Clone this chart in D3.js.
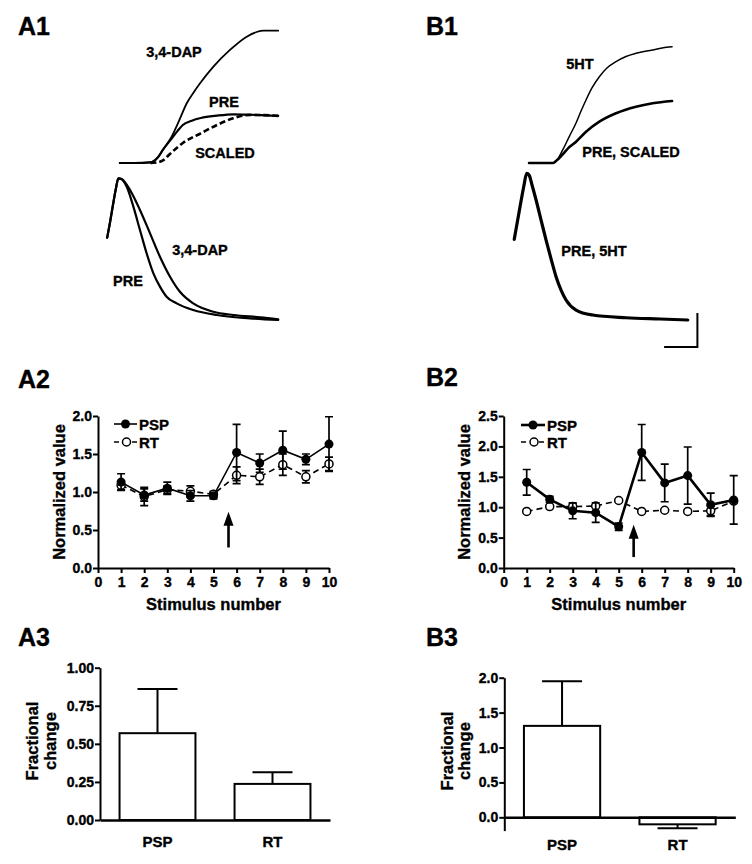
<!DOCTYPE html>
<html>
<head>
<meta charset="utf-8">
<script src="https://cdn.jsdelivr.net/npm/d3@7"></script>
<style>
  body { margin: 0; background: #fff; }
  svg text { font-family: "Liberation Sans", Arial, Helvetica, sans-serif; font-weight: bold; fill: #000; stroke: #000; stroke-width: 0.35px; }
</style>
</head>
<body>
<svg id="fig" width="752" height="864"></svg>
<script>
// ================= DATA =================
// Panel 1 traces: [time (a.u., 0-100), amplitude (% of normalized scale)]
const a1UpPRE = [[11,0],[19,0],[28,0.5],[32,4],[35,10],[39,17],[43,24],[46,28.6],[51,31.8],[56,33.8],[65,35.6],[74,36.6],[83,36.3],[92,35.8],[99,35.4]];
const a1UpDAP = [[11,0],[19,0],[28,0.5],[32,4],[35,10],[39.8,19.8],[44,32],[48.2,44.9],[52,53],[55.6,59.9],[63,72.4],[72.2,85],[81.5,95],[87,98.5],[91,99.5],[99,99.5]];
const a1UpSCALED = [[28,0],[32,0.5],[35,2],[39,7],[46,15],[56,22.3],[65,28.6],[74,33.6],[83,36.1],[91,36],[99,35.4]];
const a1LowPRE = [[4,58],[5.6,69],[7.2,81],[8.9,93],[10.2,99.8],[11.5,99.5],[14.8,94],[18.5,80],[22.2,63.4],[25.9,47],[29.6,33],[33.3,23.5],[37,16.4],[42.6,11.7],[51.8,7],[64.8,3.5],[83.3,1.2],[99,0]];
const a1LowDAP = [[4,58],[5.6,69],[7.2,81],[8.9,93],[10.2,99.8],[12,99.3],[16.7,91.5],[22.2,77.5],[27.8,61],[33.3,44.6],[38.9,30.5],[44.4,19.9],[51.8,11.7],[63,5.8],[74.1,3.5],[88.9,1.9],[99,0.5]];

const b1Up5HT = [[13,0],[26,0],[28,2],[31.2,9.8],[34.6,19.5],[38.4,30.1],[41.1,39.1],[43.8,47.4],[47,56.4],[51,64.9],[55.1,71.4],[60,76.2],[65.4,80.1],[70.8,82.5],[79.8,85],[84.9,86.5],[90.3,87.4]];
const b1UpPRE = [[13,0],[26,0],[28,2],[31.2,6.5],[34.6,11.7],[38.4,16],[43.8,23.5],[51,31.1],[60,37.4],[70.8,42.3],[79.8,44.9],[90.3,46.6]];
const b1Low = [[5,56.8],[8.1,79.6],[10.3,95.1],[11.7,103.3],[13,102.1],[14.6,95.1],[16.8,84.5],[19.5,70.4],[22.2,56.3],[24.9,43],[27.6,30.5],[30.3,21.1],[33,14.1],[38.4,7],[47.4,3.5],[65.4,1.6],[83.8,0.7],[98.8,0]];
const scaleBarX = [86, 104];
const scaleBarY = [-19, 5];

// Panel 2: stimulus series
const stimuli = [1,2,3,4,5,6,7,8,9,10];
const xTicks2 = [0,1,2,3,4,5,6,7,8,9,10];
const a2PSP    = [1.13, 0.96, 1.05, 0.95, 0.95, 1.52, 1.38, 1.55, 1.43, 1.63];
const a2PSPerr = [0.11, 0.08, 0.08, 0.07, 0.04, 0.37, 0.12, 0.25, 0.07, 0.36];
const a2RT     = [1.09, 0.94, 1.03, 1.01, 0.97, 1.22, 1.20, 1.36, 1.20, 1.37];
const a2RTerr  = [0.06, 0.12, 0.05, 0.07, 0.04, 0.11, 0.10, 0.14, 0.08, 0.09];
const a2YTicks = [0, 0.5, 1.0, 1.5, 2.0];

const b2PSP    = [1.41, 1.13, 0.94, 0.91, 0.68, 1.90, 1.40, 1.52, 1.04, 1.12];
const b2PSPerr = [0.21, 0.05, 0.13, 0.16, 0.06, 0.46, 0.31, 0.47, 0.19, 0.40];
const b2RT     = [0.93, 1.01, 1.01, 1.02, 1.11, 0.93, 0.95, 0.93, 0.94, 1.10];
const b2RTerr  = [0.02, 0.02, 0.05, 0.02, 0.02, 0.02, 0.02, 0.02, 0.08, 0.03];
const b2YTicks = [0, 0.5, 1.0, 1.5, 2.0, 2.5];
const arrowAt = 5.65;

// Panel 3: bars
const barCats = ["PSP", "RT"];
const a3Vals = [0.57, 0.237];
const a3Err  = [0.29, 0.077];
const a3YTicks = [0, 0.25, 0.5, 0.75, 1.0];
const b3Vals = [1.31, -0.10];
const b3Err  = [0.64, 0.058];
const b3YTicks = [0, 0.5, 1.0, 1.5, 2.0];

// ================= DRAW =================
const svg = d3.select("#fig");

function label(txt, x, y, size, anchor) {
  svg.append("text").attr("x", x).attr("y", y)
    .attr("font-size", size).attr("text-anchor", anchor || "start").text(txt);
}

// panel letters
label("A1", 18, 35, 25); label("B1", 426, 35, 25);
label("A2", 18, 388, 25); label("B2", 426, 386, 25);
label("A3", 18, 646, 25); label("B3", 426, 646, 25);

// ---------- Panel 1 ----------
const yUp = d3.scaleLinear().domain([0, 100]).range([163, 30]);
const yLow = d3.scaleLinear().domain([0, 100]).range([320, 178]);
const xA = d3.scaleLinear().domain([0, 100]).range([100, 280]);
const xB = d3.scaleLinear().domain([0, 100]).range([505, 690]);

function trace(data, xs, ys, width, dash) {
  const line = d3.line().x(d => xs(d[0])).y(d => ys(d[1])).curve(d3.curveMonotoneX);
  const p = svg.append("path").datum(data).attr("d", line)
    .attr("fill", "none").attr("stroke", "#000").attr("stroke-width", width)
    .attr("stroke-linejoin", "round").attr("stroke-linecap", "round");
  if (dash) p.attr("stroke-dasharray", dash).attr("stroke-linecap", "butt");
}

trace(a1UpDAP, xA, yUp, 1.8);
trace(a1UpPRE, xA, yUp, 2.2);
trace(a1UpSCALED, xA, yUp, 2.6, "6,3");
trace(a1LowDAP, xA, yLow, 2.2);
trace(a1LowPRE, xA, yLow, 2.2);

trace(b1Up5HT, xB, yUp, 1.5);
trace(b1UpPRE, xB, yUp, 2.6);
trace(b1Low, xB, yLow, 3.2);

svg.append("path")
  .attr("d", `M${xB(scaleBarX[1])},${yLow(scaleBarY[1])}V${yLow(scaleBarY[0])}H${xB(scaleBarX[0])}`)
  .attr("fill", "none").attr("stroke", "#000").attr("stroke-width", 2);

label("3,4-DAP", 174, 57, 14.5, "middle");
label("PRE", 224, 107, 14.5, "middle");
label("SCALED", 225, 158, 14.5, "middle");
label("3,4-DAP", 200, 255, 14.5, "middle");
label("PRE", 128, 286, 14.5, "middle");
label("5HT", 580, 69, 14.5, "middle");
label("PRE, SCALED", 631, 157, 14.5, "middle");
label("PRE, 5HT", 594, 256, 14.5, "middle");

// ---------- Panel 2 ----------
function styleAxis(g) {
  g.selectAll("path.domain").attr("stroke-width", 2);
  g.selectAll(".tick line").attr("stroke-width", 2);
  g.selectAll("text").attr("font-size", 14).attr("font-family", null).attr("fill", "#000");
}

function lineChart(o) {
  const x = d3.scaleLinear().domain([0, 10]).range([o.x0, o.x1]);
  const y = d3.scaleLinear().domain([0, o.ymax]).range([568, 416]);
  const gx = svg.append("g").attr("transform", `translate(0,${y(0)})`)
    .call(d3.axisBottom(x).tickValues(xTicks2).tickSize(5).tickPadding(4).tickSizeOuter(0));
  styleAxis(gx);
  const gy = svg.append("g").attr("transform", `translate(${x(0)},0)`)
    .call(d3.axisLeft(y).tickValues(o.yTicks).tickFormat(d3.format(".1f")).tickSize(5).tickPadding(1).tickSizeOuter(0));
  styleAxis(gy);

  svg.append("text").attr("x", (o.x0 + o.x1) / 2 + 0).attr("y", 610)
    .attr("font-size", 16.5).attr("text-anchor", "middle").text("Stimulus number");
  svg.append("text").attr("transform", `translate(${o.ylabX},492) rotate(-90)`)
    .attr("font-size", 16.5).attr("text-anchor", "middle").text("Normalized value");

  const pts = (vals) => stimuli.map((s, i) => [s, vals[i]]);
  const ln = d3.line().x(d => x(d[0])).y(d => y(d[1]));

  // error bars
  function errs(vals, errv) {
    stimuli.forEach((s, i) => {
      const cx = x(s), top = y(vals[i] + errv[i]), bot = y(vals[i] - errv[i]);
      svg.append("path").attr("d", `M${cx},${top}V${bot}M${cx - 4},${top}H${cx + 4}M${cx - 4},${bot}H${cx + 4}`)
        .attr("stroke", "#000").attr("stroke-width", 1.7).attr("fill", "none");
    });
  }
  errs(o.rt, o.rtErr);
  svg.append("path").datum(pts(o.rt)).attr("d", ln).attr("fill", "none")
    .attr("stroke", "#000").attr("stroke-width", 1.6).attr("stroke-dasharray", "6,4");
  svg.selectAll(null).data(pts(o.rt)).enter().append("circle")
    .attr("cx", d => x(d[0])).attr("cy", d => y(d[1])).attr("r", 4)
    .attr("fill", "#fff").attr("stroke", "#000").attr("stroke-width", 1.5);

  errs(o.psp, o.pspErr);
  svg.append("path").datum(pts(o.psp)).attr("d", ln).attr("fill", "none")
    .attr("stroke", "#000").attr("stroke-width", o.pspW);
  svg.selectAll(null).data(pts(o.psp)).enter().append("circle")
    .attr("cx", d => x(d[0])).attr("cy", d => y(d[1])).attr("r", 4.5).attr("fill", "#000");

  // arrow
  const ax = x(arrowAt), tipY = y(o.arrow[1]), baseY = y(o.arrow[0]);
  svg.append("path").attr("d", `M${ax},${baseY}V${tipY + 8}`).attr("stroke", "#000").attr("stroke-width", 2.6);
  svg.append("path").attr("d", `M${ax},${tipY}L${ax - 5},${tipY + 14}L${ax + 5},${tipY + 14}Z`).attr("fill", "#000");

  // legend
  const L = o.leg;
  svg.append("path").attr("d", `M${L.x0},${L.y1}H${L.x1}`).attr("stroke", "#000").attr("stroke-width", o.pspW);
  svg.append("circle").attr("cx", (L.x0 + L.x1) / 2).attr("cy", L.y1).attr("r", 4.5).attr("fill", "#000");
  svg.append("text").attr("x", L.tx).attr("y", L.y1 + 5.5).attr("font-size", 15).text("PSP");
  svg.append("path").attr("d", `M${L.x0},${L.y2}H${L.x1}`).attr("stroke", "#000").attr("stroke-width", 1.6).attr("stroke-dasharray", "5,4");
  svg.append("circle").attr("cx", (L.x0 + L.x1) / 2 + 1).attr("cy", L.y2).attr("r", 4)
    .attr("fill", "#fff").attr("stroke", "#000").attr("stroke-width", 1.5);
  svg.append("text").attr("x", L.tx).attr("y", L.y2 + 5.5).attr("font-size", 15).text("RT");
}

lineChart({ x0: 98, x1: 329, ymax: 2.0, yTicks: a2YTicks, psp: a2PSP, pspErr: a2PSPerr, rt: a2RT, rtErr: a2RTerr,
  pspW: 1.6, ylabX: 65, arrow: [0.27, 0.74], leg: { x0: 114, x1: 137, y1: 424, y2: 442, tx: 139 } });
lineChart({ x0: 503.7, x1: 733.7, ymax: 2.5, yTicks: b2YTicks, psp: b2PSP, pspErr: b2PSPerr, rt: b2RT, rtErr: b2RTerr,
  pspW: 2.6, ylabX: 470, arrow: [0.18, 0.71], leg: { x0: 521, x1: 545, y1: 425, y2: 442, tx: 547 } });

// ---------- Panel 3 ----------
function barChart(o) {
  const x = d3.scaleBand().domain(barCats).range([o.x0, o.x1]).paddingInner(0.34).paddingOuter(0.17);
  const y = d3.scaleLinear().domain(o.ydom).range(o.yrange);
  const gy = svg.append("g").attr("transform", `translate(${o.x0},0)`)
    .call(d3.axisLeft(y).tickValues(o.yTicks).tickFormat(d3.format(o.fmt)).tickSize(5).tickPadding(1).tickSizeOuter(0));
  styleAxis(gy);

  // bars
  barCats.forEach((c, i) => {
    const v = o.vals[i], e = o.err[i];
    const bx = x(c), bw = x.bandwidth(), cx = bx + bw / 2;
    const y0 = y(0), yv = y(v);
    svg.append("rect").attr("x", bx).attr("y", Math.min(y0, yv)).attr("width", bw).attr("height", Math.abs(yv - y0))
      .attr("fill", "#fff").attr("stroke", "#000").attr("stroke-width", 2);
    const ye = v >= 0 ? y(v + e) : y(v - e);
    svg.append("path").attr("d", `M${cx},${yv}V${ye}M${cx - 20},${ye}H${cx + 20}`)
      .attr("stroke", "#000").attr("stroke-width", 2).attr("fill", "none");
  });

  const gx = svg.append("g").attr("transform", `translate(0,${y(0)})`)
    .call(d3.axisBottom(x).tickSize(0).tickSizeOuter(0).tickPadding(o.labPad));
  styleAxis(gx);
  gx.selectAll("text").attr("font-size", 15);
  gx.select("path.domain").attr("stroke-width", 2.5);

  svg.append("text").attr("transform", `translate(${o.lab1},${o.labY}) rotate(-90)`)
    .attr("font-size", 16.5).attr("text-anchor", "middle").text("Fractional");
  svg.append("text").attr("transform", `translate(${o.lab2},${o.labY}) rotate(-90)`)
    .attr("font-size", 16.5).attr("text-anchor", "middle").text("change");
}

barChart({ x0: 100, x1: 330, ydom: [0, 1], yrange: [820, 667.7], yTicks: a3YTicks, fmt: ".2f",
  vals: a3Vals, err: a3Err, labPad: 16, lab1: 38, lab2: 56, labY: 741 });
barChart({ x0: 504.3, x1: 735.3, ydom: [-0.19, 2.0], yrange: [830.6, 677.7], yTicks: b3YTicks, fmt: ".1f",
  vals: b3Vals, err: b3Err, labPad: 22, lab1: 453, lab2: 470, labY: 751 });
</script>
</body>
</html>
